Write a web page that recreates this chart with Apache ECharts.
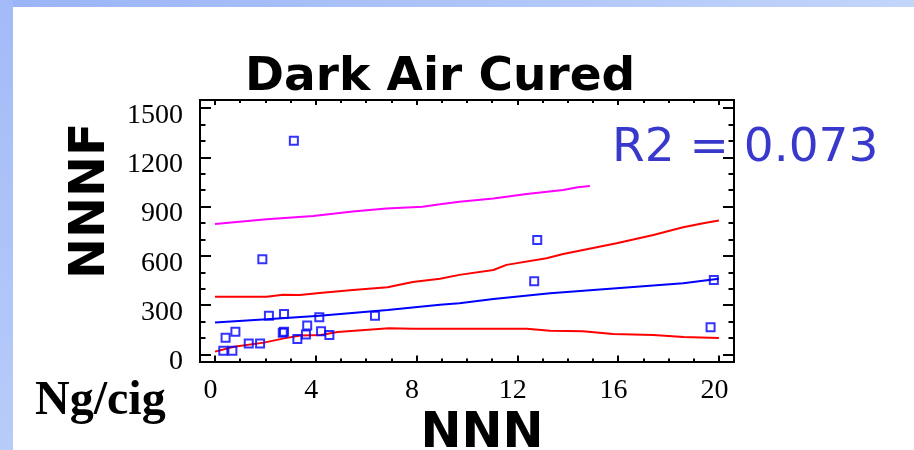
<!DOCTYPE html>
<html>
<head>
<meta charset="utf-8">
<script src="https://cdn.jsdelivr.net/npm/echarts@6/dist/echarts.min.js"></script>
<style>
html,body{margin:0;padding:0;background:#fff;}
#chart{width:914px;height:450px;}
</style>
</head>
<body>
<div id="chart"></div>
<script>
// ---- data ----
const pointsX = [3.13, 1.88, 2.14, 2.74, 4.14, 6.35, 0.42, 0.81, 0.33, 0.69, 1.34, 1.79, 2.69, 2.74, 3.27, 3.66, 3.61, 4.21, 4.54, 12.79, 12.67, 19.8, 19.67];
const pointsY = [1302, 579, 235, 246, 226, 235, 101, 138, 22, 22, 65, 65, 132, 138, 93, 175, 120, 140, 118, 697, 445, 453, 165];

const fitX = [0, 2.05, 4.15, 6.85, 8.93, 9.7, 11.05, 13.3, 15.94, 18.58, 20];
const fitY = [193, 213, 235, 270, 302, 311, 337, 372, 402, 433, 461];

const ciUpperX = [0, 2.05, 2.7, 3.36, 4.15, 5.47, 6.85, 7.85, 8.93, 9.7, 11.05, 11.57, 13.16, 13.82, 15.94, 17.4, 18.58, 19.38, 20];
const ciUpperY = [351, 351, 363, 361, 374, 392, 408, 440, 460, 484, 514, 545, 585, 611, 677, 727, 774, 799, 815];

const ciLowerX = [0, 0.75, 1.94, 2.74, 3.4, 4.2, 4.86, 6.9, 7.85, 9.7, 12.37, 13.3, 14.6, 15.8, 17.4, 18.6, 20];
const ciLowerY = [16, 46, 71, 97, 114, 118, 136, 158, 155, 155, 156, 144, 140, 124, 118, 105, 99];

const piUpperX = [0, 2.05, 3.9, 5.47, 6.8, 8.24, 8.93, 9.7, 11.05, 12.37, 13.82, 14.4, 14.88];
const piUpperY = [794, 823, 843, 870, 888, 900, 914, 930, 949, 977, 1002, 1018, 1026];

const xTickLabels = [0, 4, 8, 12, 16, 20];
const xMinorTicks = [0,1,2,3,4,5,6,7,8,9,10,11,12,13,14,15,16,17,18,19,20];
const yTickLabels = [0, 300, 600, 900, 1200, 1500];
const yMinorTicks = [0,100,200,300,400,500,600,700,800,900,1000,1100,1200,1300,1400,1500];

const titleText = 'Dark Air Cured';
const xName = 'NNN';
const yName = 'NNNF';
const unitText = 'Ng/cig';
const r2Text = 'R2 = 0.073';

// ---- chart ----
const zip = (xs, ys) => xs.map((x, i) => [x, ys[i]]);
const X_MIN = -0.595, X_MAX = 20.6, Y_MIN = -44, Y_MAX = 1550;
const black = '#000';
const serif = 'Liberation Serif';

function xAx(extra) {
  return Object.assign({
    type: 'value', min: X_MIN, max: X_MAX, position: 'bottom',
    axisLine: { show: true, onZero: false, lineStyle: { color: black, width: 2 } },
    splitLine: { show: false },
    axisLabel: { show: false },
    axisTick: { show: false }
  }, extra);
}
function yAx(extra) {
  return Object.assign({
    type: 'value', min: Y_MIN, max: Y_MAX, position: 'left',
    axisLine: { show: true, onZero: false, lineStyle: { color: black, width: 2 } },
    splitLine: { show: false },
    axisLabel: { show: false },
    axisTick: { show: false }
  }, extra);
}

const chart = echarts.init(document.getElementById('chart'), null, { renderer: 'canvas' });
chart.setOption({
  animation: false,
  backgroundColor: '#fff',
  title: {
    text: titleText, left: 245, top: 54, padding: 0,
    textStyle: { fontFamily: 'DejaVu Sans', fontWeight: 'bold', fontSize: 47, color: black }
  },
  grid: { left: 200, right: 180, top: 100, bottom: 88.5, containLabel: false, outerBoundsMode: 'none' },
  xAxis: [
    xAx({
      name: xName, nameLocation: 'middle', nameGap: 42,
      nameTextStyle: { fontFamily: 'DejaVu Sans', fontWeight: 'bold', fontSize: 49, color: black, padding: [0, 0, 0, 30] },
      axisTick: { show: true, inside: true, length: 6, lineStyle: { color: black, width: 2 }, customValues: xTickLabels },
      axisLabel: { show: true, customValues: xTickLabels, margin: 15, fontFamily: serif, fontSize: 28, color: black, padding: [0, 9, 0, 0],
        formatter: v => String(v) }
    }),
    xAx({ axisTick: { show: true, inside: true, length: 3, lineStyle: { color: black, width: 2 }, customValues: xMinorTicks } }),
    xAx({ position: 'top', axisTick: { show: true, inside: true, length: 5, lineStyle: { color: black, width: 2 }, customValues: xTickLabels } }),
    xAx({ position: 'top', axisTick: { show: true, inside: true, length: 3, lineStyle: { color: black, width: 2 }, customValues: xMinorTicks } })
  ],
  yAxis: [
    yAx({
      name: yName, nameLocation: 'middle', nameGap: 82, nameRotate: 90,
      nameTextStyle: { fontFamily: 'DejaVu Sans', fontWeight: 'bold', fontSize: 49, color: black, padding: [0, 0, 0, 60] },
      axisTick: { show: true, inside: true, length: 11, lineStyle: { color: black, width: 2 }, customValues: yTickLabels },
      axisLabel: { show: true, customValues: yTickLabels, margin: 17, fontFamily: serif, fontSize: 28, color: black,
        verticalAlign: 'top', lineHeight: 15, formatter: v => String(v) }
    }),
    yAx({ axisTick: { show: true, inside: true, length: 5.5, lineStyle: { color: black, width: 2 }, customValues: yMinorTicks } }),
    yAx({ position: 'right', axisTick: { show: true, inside: true, length: 11, lineStyle: { color: black, width: 2 }, customValues: yTickLabels } }),
    yAx({ position: 'right', axisTick: { show: true, inside: true, length: 5.5, lineStyle: { color: black, width: 2 }, customValues: yMinorTicks } })
  ],
  graphic: [
    { type: 'rect', left: 0, top: 0, z: -10, shape: { width: 914, height: 7 },
      style: { fill: new echarts.graphic.LinearGradient(0, 0, 1, 0, [{ offset: 0, color: '#9ab4f6' }, { offset: 1, color: '#c2d5fb' }]) } },
    { type: 'rect', left: 0, top: 0, z: -10, shape: { width: 13, height: 450 },
      style: { fill: new echarts.graphic.LinearGradient(0, 0, 0, 1, [{ offset: 0, color: '#a2baf7' }, { offset: 1, color: '#b8ccfa' }]) } },
    { type: 'text', x: 612, y: 149, z: 10,
      style: { text: r2Text, fontFamily: 'DejaVu Sans', fontSize: 47, fill: '#3838cc', verticalAlign: 'middle', align: 'left' } },
    { type: 'text', x: 35, y: 402, z: 10,
      style: { text: unitText, fontFamily: serif, fontWeight: 'bold', fontSize: 48, fill: black, verticalAlign: 'middle', align: 'left' } }
  ],
  series: [
    { type: 'line', data: zip(piUpperX, piUpperY), showSymbol: false, lineStyle: { color: '#ff00ff', width: 2 }, silent: true },
    { type: 'line', data: zip(ciUpperX, ciUpperY), showSymbol: false, lineStyle: { color: '#ff0000', width: 2 }, silent: true },
    { type: 'line', data: zip(ciLowerX, ciLowerY), showSymbol: false, lineStyle: { color: '#ff0000', width: 2 }, silent: true },
    { type: 'line', data: zip(fitX, fitY), showSymbol: false, lineStyle: { color: '#0000ff', width: 2 }, silent: true },
    { type: 'scatter', data: zip(pointsX, pointsY), symbol: 'rect', symbolSize: 8,
      itemStyle: { color: 'rgba(0,0,0,0)', borderColor: '#0000ff', borderWidth: 2 }, z: 5 }
  ]
});
</script>
</body>
</html>
